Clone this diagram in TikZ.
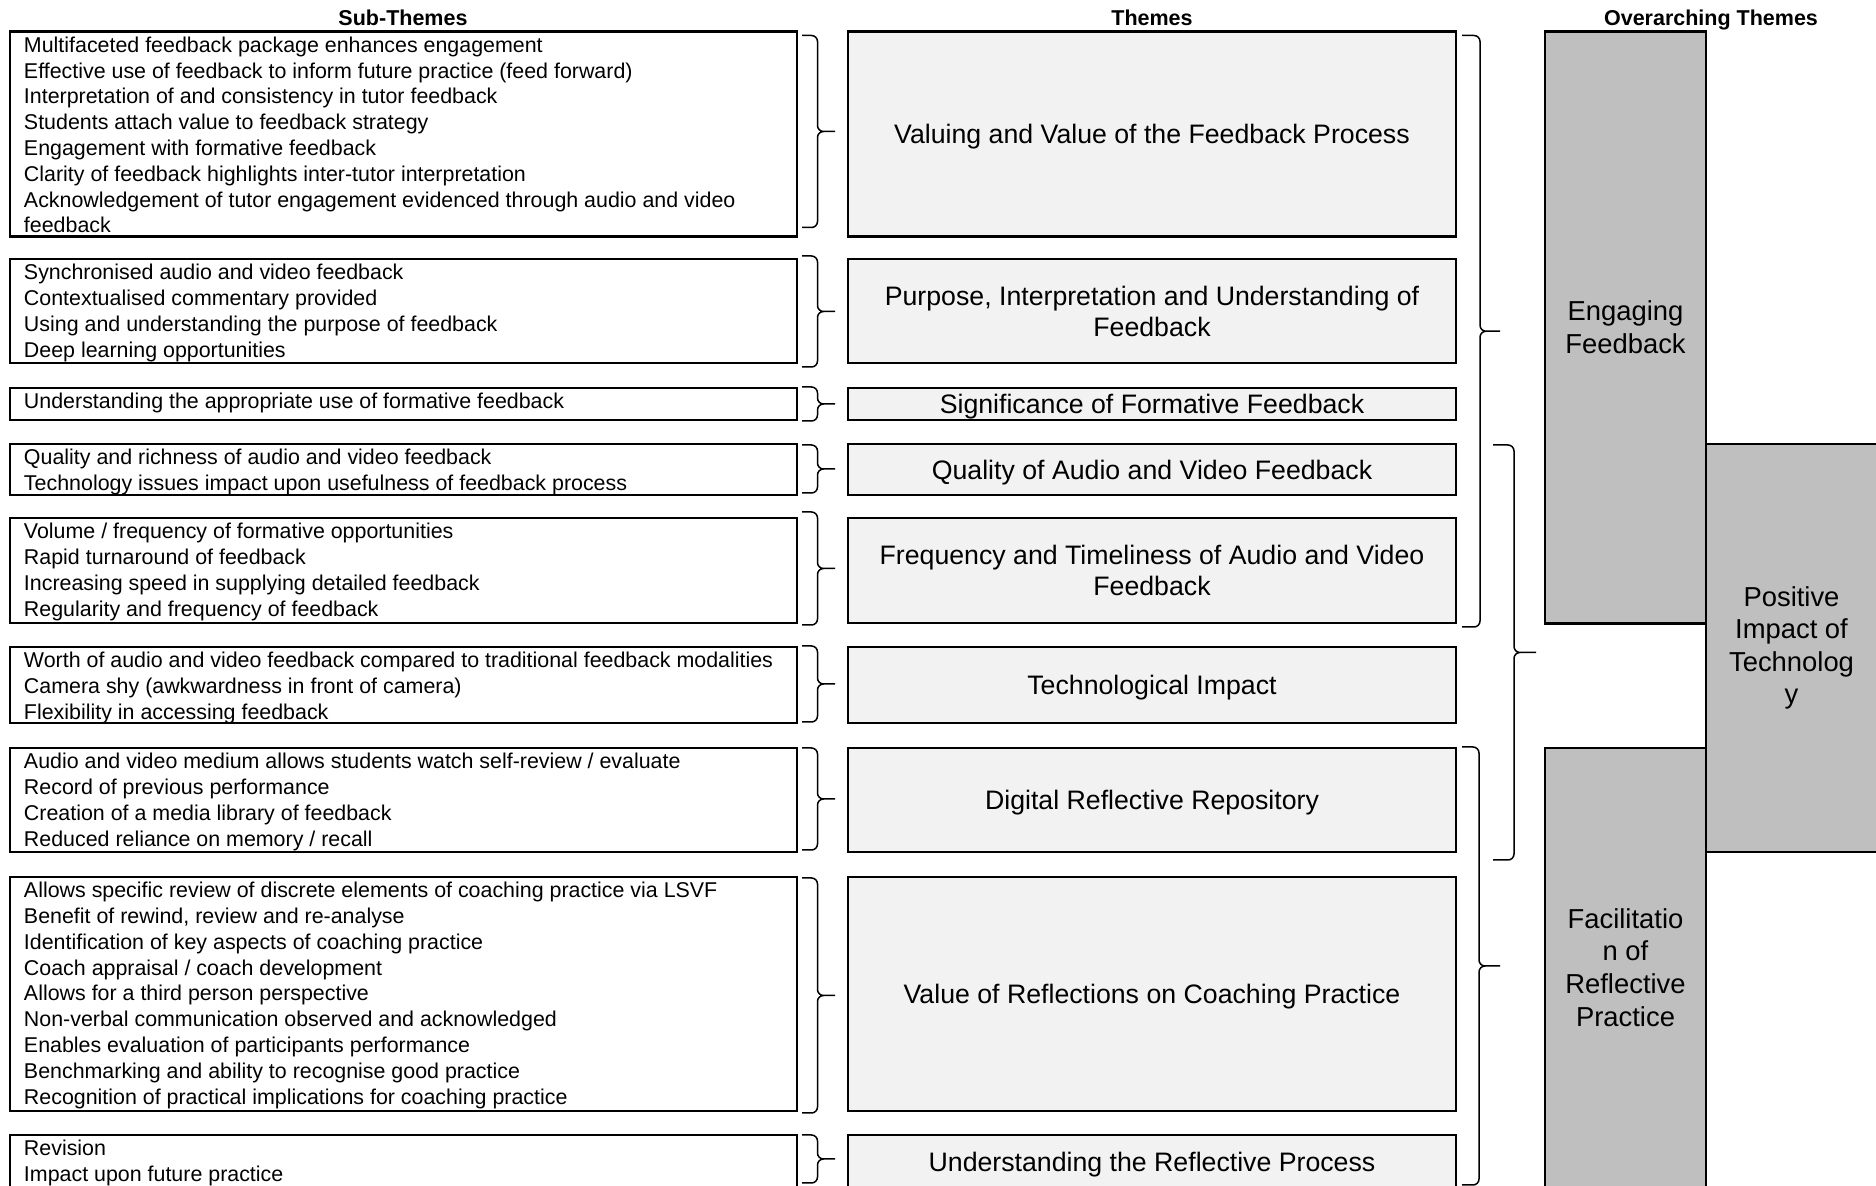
\documentclass[tikz,border=0pt]{standalone}
\usepackage{fontspec}
\setmainfont{Liberation Sans}
\usetikzlibrary{calc}
\definecolor{themefill}{HTML}{F2F2F2}
\definecolor{overfill}{HTML}{BFBFBF}
\newcommand\subtext[2]{\parbox[c][#1][t]{393.5pt}{\fontsize{10.7}{12.9}\selectfont\raggedright\leftskip=7pt\parindent=0pt\rule{0pt}{10.4pt}#2}}
\tikzset{
  subbox/.style={draw=black, line width=1.1pt, inner sep=0pt, outer sep=0pt, anchor=north west},
  themebox/.style={draw=black, line width=1.1pt, fill=themefill, inner sep=0pt, outer sep=0pt, anchor=north west, minimum width=304pt, align=center, font=\fontsize{13.35}{15.5}\selectfont},
  oneline/.style={text height=9.9pt, text depth=0pt},
  overbox/.style={draw=black, line width=1.1pt, fill=overfill, inner sep=0pt, outer sep=0pt, anchor=north west, align=center, font=\fontsize{13.7}{16.3}\selectfont},
  header/.style={font=\bfseries\fontsize{10.75}{12}\selectfont, anchor=base, inner sep=0pt},
  rbrace/.style 2 args={line width=0.75pt, rounded corners=3pt, to path={
     let \p1=(\tikztostart), \p2=(\tikztotarget) in
     -- ++(#1,0) -- ({\x1+#1},{0.5*(\y1+\y2)}) -- ++(#2,0)
     (\tikztotarget) -- ++(#1,0) -- ({\x1+#1},{0.5*(\y1+\y2)}) -- ++(#2,0)}}
}
\begin{document}
\begin{tikzpicture}[x=0.5pt,y=-0.5pt]
\useasboundingbox (0,0) rectangle (1876,1186);

% headers
\node[header] (h1) at (403,26) {Sub-Themes};
\node[header] (h2) at (1152,26) {Themes};
\node[header] (h3) at (1711,26) {Overarching Themes};

% sub-theme boxes
\node[subbox] (s1) at (10,31.5) {\subtext{102.5pt}{Multifaceted feedback package enhances engagement\\Effective use of feedback to inform future practice (feed forward)\\Interpretation of and consistency in tutor feedback\\Students attach value to feedback strategy\\Engagement with formative feedback\\Clarity of feedback highlights inter-tutor interpretation\\Acknowledgement of tutor engagement evidenced through audio and video\\feedback}};
\node[subbox] (s2) at (10,259) {\subtext{52pt}{Synchronised audio and video feedback\\Contextualised commentary provided\\Using and understanding the purpose of feedback\\Deep learning opportunities}};
\node[subbox] (s3) at (10,388) {\subtext{16pt}{Understanding the appropriate use of formative feedback}};
\node[subbox] (s4) at (10,444) {\subtext{25.5pt}{Quality and richness of audio and video feedback\\Technology issues impact upon usefulness of feedback process}};
\node[subbox] (s5) at (10,518) {\subtext{52.5pt}{Volume / frequency of formative opportunities\\Rapid turnaround of feedback\\Increasing speed in supplying detailed feedback\\Regularity and frequency of feedback}};
\node[subbox] (s6) at (10,647) {\subtext{38pt}{Worth of audio and video feedback compared to traditional feedback modalities\\Camera shy (awkwardness in front of camera)\\Flexibility in accessing feedback}};
\node[subbox] (s7) at (10,748) {\subtext{52pt}{Audio and video medium allows students watch self-review / evaluate\\Record of previous performance\\Creation of a media library of feedback\\Reduced reliance on memory / recall}};
\node[subbox] (s8) at (10,877) {\subtext{117pt}{Allows specific review of discrete elements of coaching practice via LSVF\\Benefit of rewind, review and re-analyse\\Identification of key aspects of coaching practice\\Coach appraisal / coach development\\Allows for a third person perspective\\Non-verbal communication observed and acknowledged\\Enables evaluation of participants performance\\Benchmarking and ability to recognise good practice\\Recognition of practical implications for coaching practice}};
\node[subbox] (s9) at (10,1135) {\subtext{26.5pt}{Revision\\Impact upon future practice}};

% theme boxes
\node[themebox, oneline, minimum height=102.5pt] (t1) at (848,31.5) {Valuing and Value of the Feedback Process};
\node[themebox, minimum height=52pt] (t2) at (848,259) {Purpose, Interpretation and Understanding of\\Feedback};
\node[themebox, oneline, minimum height=16pt] (t3) at (848,388) {Significance of Formative Feedback};
\node[themebox, oneline, minimum height=25.5pt] (t4) at (848,444) {Quality of Audio and Video Feedback};
\node[themebox, minimum height=52.5pt] (t5) at (848,518) {Frequency and Timeliness of Audio and Video\\Feedback};
\node[themebox, oneline, minimum height=38pt] (t6) at (848,647) {Technological Impact};
\node[themebox, oneline, minimum height=52pt] (t7) at (848,748) {Digital Reflective Repository};
\node[themebox, oneline, minimum height=117pt] (t8) at (848,877) {Value of Reflections on Coaching Practice};
\node[themebox, oneline, minimum height=26.5pt] (t9) at (848,1135) {Understanding the Reflective Process};

% overarching themes
\node[overbox, minimum width=80.5pt, minimum height=296pt] (o1) at (1545,31.5) {Engaging\\Feedback};
\node[overbox, minimum width=80.5pt, minimum height=219.5pt] (o3) at (1545,748) {Facilitatio\\n of\\Reflective\\Practice};
\node[overbox, minimum width=85.5pt, minimum height=204pt] (o2) at (1706,444) {Positive\\Impact of\\Technolog\\y};

% small braces: sub-themes -> themes
\draw[rbrace={7.75pt}{8.75pt}] ([shift={(2.5pt,-2pt)}]s1.north east) to ([shift={(2.5pt,4.5pt)}]s1.south east);
\draw[rbrace={7.75pt}{8.75pt}] ([shift={(2.5pt,1.5pt)}]s2.north east) to ([shift={(2.5pt,-2pt)}]s2.south east);
\draw[rbrace={7.75pt}{8.75pt}] ([shift={(2.5pt,0.5pt)}]s3.north east) to ([shift={(2.5pt,-0.5pt)}]s3.south east);
\draw[rbrace={7.75pt}{8.75pt}] ([shift={(2.5pt,-0.5pt)}]s4.north east) to ([shift={(2.5pt,1pt)}]s4.south east);
\draw[rbrace={7.75pt}{8.75pt}] ([shift={(2.5pt,3pt)}]s5.north east) to ([shift={(2.5pt,-1pt)}]s5.south east);
\draw[rbrace={7.75pt}{8.75pt}] ([shift={(2.5pt,0.5pt)}]s6.north east) to ([shift={(2.5pt,0.5pt)}]s6.south east);
\draw[rbrace={7.75pt}{8.75pt}] ([shift={(2.5pt,0pt)}]s7.north east) to ([shift={(2.5pt,1pt)}]s7.south east);
\draw[rbrace={7.75pt}{8.75pt}] ([shift={(2.5pt,-0.5pt)}]s8.north east) to ([shift={(2.5pt,-1pt)}]s8.south east);
\draw[rbrace={7.75pt}{8.75pt}] ([shift={(2.5pt,0pt)}]s9.north east) to ([shift={(2.5pt,2.5pt)}]s9.south east);

% big braces: themes -> overarching themes
\draw[rbrace={9pt}{10pt}] ([shift={(3pt,-2pt)}]t1.north east) to ([shift={(3pt,-2pt)}]t5.south east);
\draw[rbrace={10.5pt}{11pt}] ([shift={(18.5pt,-0.5pt)}]t4.north east) to ([shift={(18.5pt,-4pt)}]t7.south east);
\draw[rbrace={8.5pt}{10.5pt}] ([shift={(3pt,0.5pt)}]t7.north east) to ([shift={(3pt,1.5pt)}]t9.south east);
\end{tikzpicture}
\end{document}
